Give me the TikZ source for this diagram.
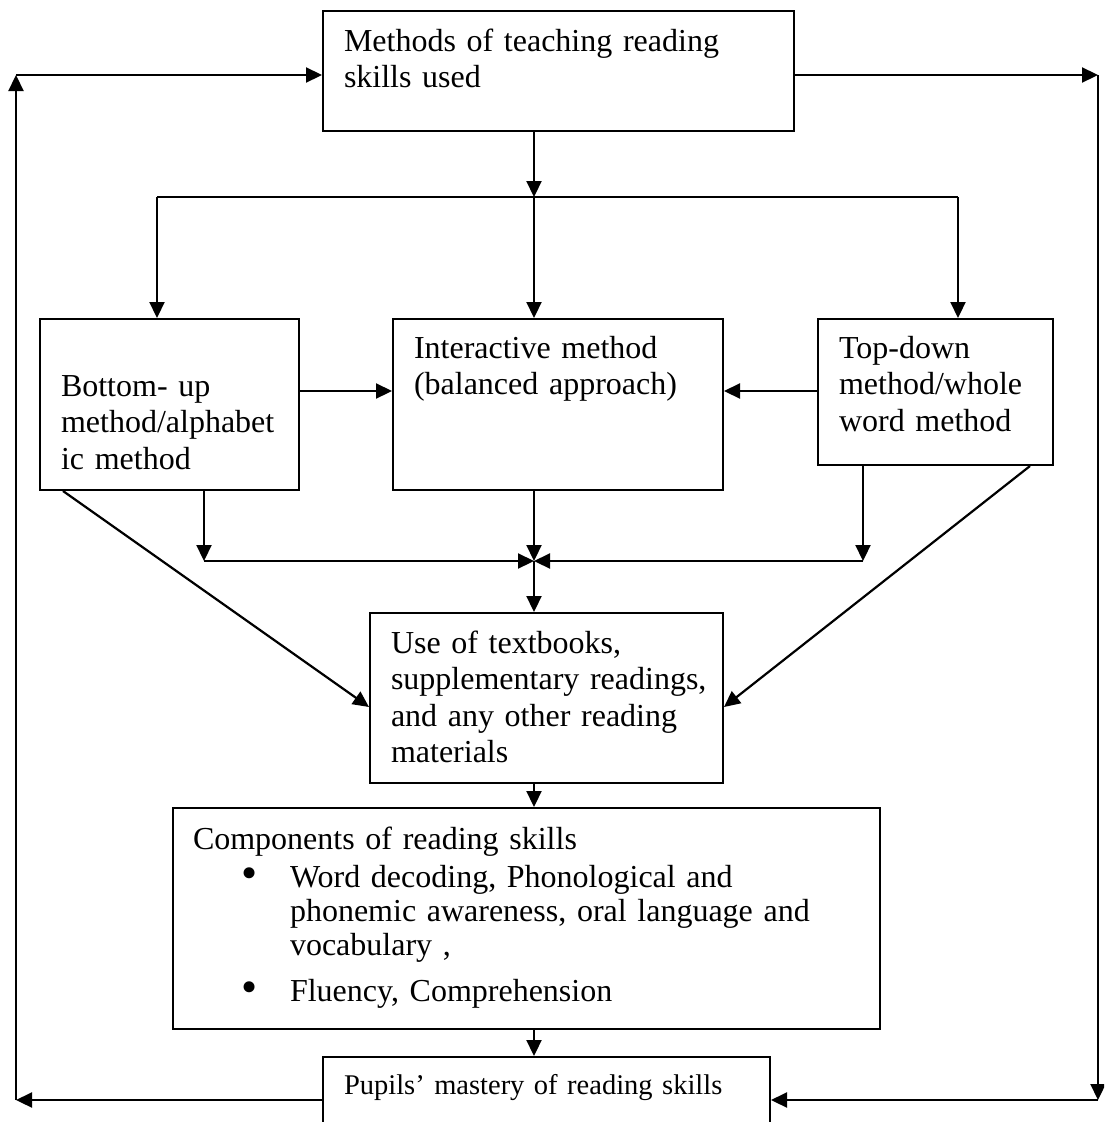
\documentclass[tikz,border=0pt]{standalone}
\usepackage{fontspec}
\setmainfont{Liberation Serif}
\usepackage{tikz}
\usetikzlibrary{arrows.meta}

\newcommand{\bulline}{\makebox[97pt][l]{\hspace*{48pt}\raisebox{-1pt}{\fontsize{46}{46}\selectfont\textbullet}}}
\newcommand{\contline}{\hspace*{97pt}}

\begin{document}
\begin{tikzpicture}[x=1pt,y=-1pt,line width=2.2pt,
        >={Triangle[length=16pt,width=15pt]},
        box/.style={draw,line width=2pt,anchor=north west,align=left,inner ysep=0pt,
                    inner xsep=21pt,font=\fontsize{32}{36.5}\selectfont}]

  \useasboundingbox (0,0) rectangle (1104,1122);
  \clip (0,0) rectangle (1104,1122);

  \node[box,text width=429pt,text height=40pt,text depth=80pt] (methods) at (322,10)
    {Methods of teaching reading\\skills used};
  \node[box,text width=217pt,text height=77pt,text depth=94pt] (bottomup) at (39,318)
    {Bottom- up\\\mbox{method/alphabet}\\ic method};
  \node[box,text width=288pt,text height=39pt,text depth=132pt] (interactive) at (392,318)
    {Interactive method\\(balanced approach)};
  \node[box,text width=193pt,text height=39pt,text depth=107pt] (topdown) at (817,318)
    {Top-down\\\mbox{method/whole}\\word method};
  \node[box,text width=311pt,text height=40pt,text depth=130pt] (textbooks) at (369,612)
    {Use of textbooks,\\\mbox{supplementary readings,}\\and any other reading\\materials};
  \node[box,inner xsep=20pt,text width=667pt,text height=41pt,text depth=180pt,
        font=\fontsize{32}{34}\selectfont] (components) at (172,807)
    {Components of reading skills\\[4pt]
     \bulline Word decoding, Phonological and\\
     \contline phonemic awareness, oral language and\\
     \contline vocabulary ,\\[12pt]
     \bulline Fluency, Comprehension};
  \node[box,text width=405pt,text height=37pt,text depth=60pt,
        font=\fontsize{28.5}{32}\selectfont] (pupils) at (322,1056)
    {Pupils' mastery of reading skills};

  % feedback loop round the outside
  \coordinate (tl) at (16,75);
  \coordinate (bl) at (16,1100);
  \coordinate (tr) at (1098,75);
  \coordinate (br) at (1098,1100);
  \draw[->] (pupils.north west |- bl) -- (bl);
  \draw[->] (bl) -- (tl);
  \draw[->] (tl) -- (tl -| methods.west);
  \draw[->] (methods.east |- tr) -- (tr);
  \draw[->] (tr) -- (br);
  \draw[->] (br) -- (br -| pupils.east);

  % split into the three methods
  \coordinate (split) at (534,197);
  \coordinate (sl) at (157,197);
  \coordinate (sr) at (958,197);
  \draw[->] (split |- methods.south) -- (split);
  \draw (sl) -- (sr);
  \draw[->] (sl) -- (sl |- bottomup.north);
  \draw[->] (split) -- (split |- interactive.north);
  \draw[->] (sr) -- (sr |- topdown.north);
  \draw[->] ([yshift=-73pt]bottomup.north east) -- ([yshift=-73pt]interactive.north west);
  \draw[->] ([yshift=-73pt]topdown.north west) -- ([yshift=-73pt]interactive.north east);

  % join above the materials box
  \coordinate (join) at (534,561);
  \coordinate (jl) at ([xshift=165pt]bottomup.south west);
  \coordinate (jr) at ([xshift=46pt]topdown.south west);
  \draw[->] (jl) -- (jl |- join);
  \draw[->] (jr) -- (jr |- join);
  \draw[->] (jl |- join) -- (join);
  \draw[->] (jr |- join) -- (join);
  \draw[->] (join |- interactive.south) -- (join);
  \draw[->] (join) -- (join |- textbooks.north);
  \draw[->] ([xshift=24pt]bottomup.south west) -- ([yshift=-95pt]textbooks.north west);
  \draw[->] ([xshift=-24pt]topdown.south east) -- ([yshift=-95pt]textbooks.north east);

  % down to the outcome
  \draw[->] (join |- textbooks.south) -- (join |- components.north);
  \draw[->] (join |- components.south) -- (join |- pupils.north);

\end{tikzpicture}
\end{document}
